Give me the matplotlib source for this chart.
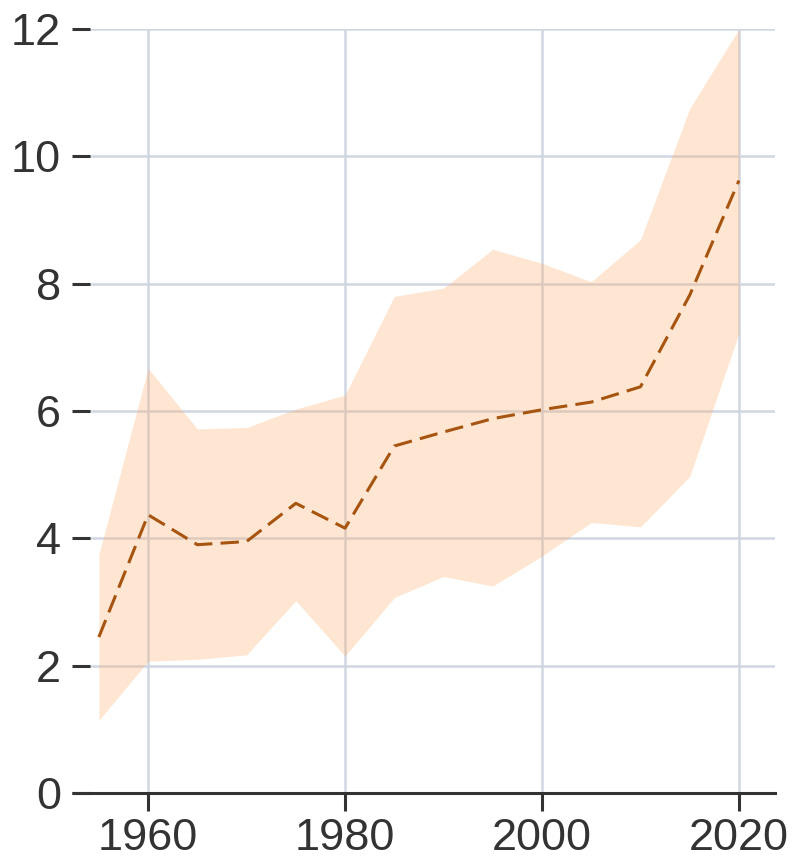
import numpy as np
import matplotlib.pyplot as plt
from matplotlib.lines import Line2D

years = [1955, 1960, 1965, 1970, 1975, 1980, 1985, 1990, 1995, 2000, 2005, 2010, 2015, 2020]
mid = [2.45, 4.37, 3.9, 3.95, 4.55, 4.16, 5.45, 5.67, 5.88, 6.02, 6.14, 6.38, 7.82, 9.62]
upper = [3.75, 6.67, 5.72, 5.74, 6.03, 6.25, 7.8, 7.93, 8.54, 8.32, 8.03, 8.69, 10.75, 12.0]
lower = [1.14, 2.07, 2.1, 2.17, 3.02, 2.15, 3.07, 3.4, 3.25, 3.72, 4.25, 4.18, 4.97, 7.22]

xticks = [1960, 1980, 2000, 2020]
yticks = [0, 2, 4, 6, 8, 10, 12]

plt.rcParams['font.family'] = ['Liberation Sans', 'DejaVu Sans']

fig = plt.figure(figsize=(7.94, 8.57), dpi=100)
ax = fig.add_axes([90/794, 64/857, 685/794, 764/857])

ax.fill_between(years, lower, upper, color="#fdae6b", alpha=0.3, linewidth=0, zorder=1)
ax.plot(years, mid, color="#a6540f", linewidth=2.2, dashes=(6, 2.7), zorder=2)

ax.set_xlim(1954.1, 2023.66)
ax.set_ylim(0, 12)
ax.set_xticks(xticks)
ax.set_yticks(yticks)

ax.set_axisbelow(True)
ax.grid(True, color="#d0d6e2", linewidth=1.8)

for s in ["top", "right", "left"]:
    ax.spines[s].set_visible(False)
ax.spines["bottom"].set_color("#333333")
ax.spines["bottom"].set_linewidth(2.2)
# bottom axis line runs under the y tick marks too
ax.add_line(Line2D([-18/685, 0], [0, 0], transform=ax.transAxes, color="#333333",
                   linewidth=2.2, clip_on=False, solid_capstyle="butt"))

ax.tick_params(axis="both", colors="#333333", labelsize=32.5, length=13, width=2.2)
ax.tick_params(axis="y", pad=8)
ax.tick_params(axis="x", pad=5)

plt.savefig("out.png", dpi=100)
